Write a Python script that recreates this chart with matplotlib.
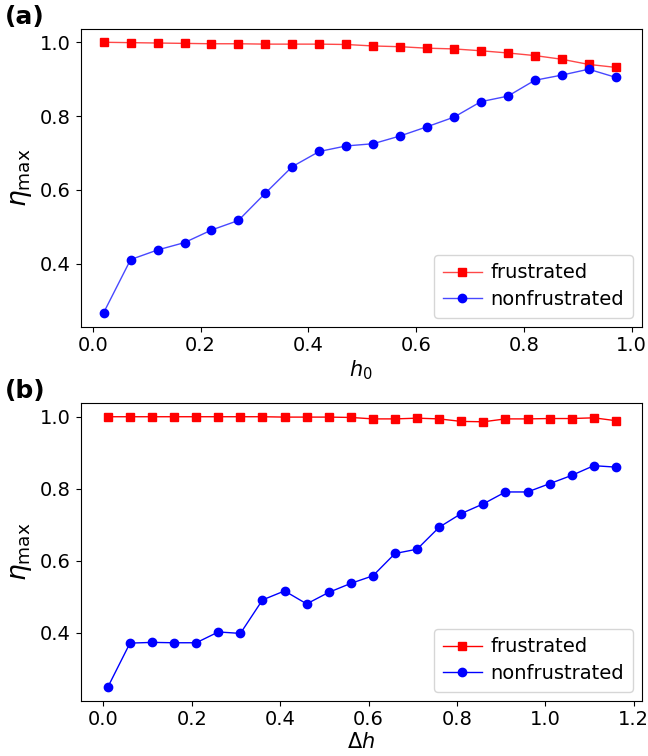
import numpy as np
import matplotlib.pyplot as plt

# panel (a): eta_max vs h0
h0 = [0.02, 0.07, 0.12, 0.17, 0.22, 0.27, 0.32, 0.37, 0.42, 0.47,
      0.52, 0.57, 0.62, 0.67, 0.72, 0.77, 0.82, 0.87, 0.92, 0.97]
frus_a = [1.000, 0.999, 0.998, 0.997, 0.996, 0.996, 0.995, 0.995, 0.995, 0.994,
          0.990, 0.988, 0.984, 0.982, 0.977, 0.971, 0.964, 0.954, 0.940, 0.932]
nonfrus_a = [0.267, 0.411, 0.437, 0.457, 0.491, 0.517, 0.591, 0.663, 0.704, 0.719,
             0.725, 0.746, 0.771, 0.797, 0.839, 0.854, 0.897, 0.911, 0.927, 0.905]

# panel (b): eta_max vs delta h
dh = [0.01, 0.06, 0.11, 0.16, 0.21, 0.26, 0.31, 0.36, 0.41, 0.46, 0.51, 0.56,
      0.61, 0.66, 0.71, 0.76, 0.81, 0.86, 0.91, 0.96, 1.01, 1.06, 1.11, 1.16]
frus_b = [1.000, 1.000, 1.000, 1.000, 1.000, 1.000, 1.000, 1.000, 0.999, 0.999, 0.999, 0.998,
          0.994, 0.994, 0.996, 0.994, 0.987, 0.986, 0.994, 0.994, 0.995, 0.995, 0.997, 0.989]
nonfrus_b = [0.249, 0.371, 0.373, 0.372, 0.372, 0.402, 0.398, 0.491, 0.516, 0.480, 0.512, 0.537,
             0.558, 0.620, 0.632, 0.693, 0.731, 0.758, 0.791, 0.791, 0.814, 0.837, 0.864, 0.860]

fig = plt.figure(figsize=(6.48, 7.56), dpi=100)
W, H = 648.0, 756.0

def add_panel(x, yf, yn, xlabel, tag, top, bottom, xlim, ylim, xticks, lc_f, lc_n):
    ax = fig.add_axes([80.5 / W, 1 - bottom / H, 561 / W, (bottom - top) / H])
    ax.plot(x, yf, '-s', color=lc_f, mfc='red', mec='red', lw=1, ms=6, label='frustrated')
    ax.plot(x, yn, '-o', color=lc_n, mfc='blue', mec='blue', lw=1, ms=6, label='nonfrustrated')
    ax.set_xlim(xlim)
    ax.set_ylim(ylim)
    ax.set_xticks(xticks)
    ax.set_yticks([0.4, 0.6, 0.8, 1.0])
    ax.tick_params(labelsize=14)
    ax.set_xlabel(xlabel, fontsize=15, labelpad=2)
    ax.set_ylabel(r'$\eta_{\rm max}$', fontsize=19, labelpad=4)
    ax.legend(loc='lower right', fontsize=14, handlelength=2, borderpad=0.45,
              borderaxespad=0.45, handletextpad=0.45, labelspacing=0.4)
    fig.text(5 / W, 1 - (top - 12) / H, tag, fontsize=18, fontweight='bold', va='center')
    return ax

ax1 = add_panel(h0, frus_a, nonfrus_a, r'$h_0$', '(a)', 29, 326.7,
                (-0.023, 1.018), (0.229, 1.036), [0.0, 0.2, 0.4, 0.6, 0.8, 1.0],
                '#ff4848', '#4848ff')

ax2 = add_panel(dh, frus_b, nonfrus_b, r'$\Delta h$', '(b)', 402.7, 700.7,
                (-0.052, 1.218), (0.211, 1.039), [0.0, 0.2, 0.4, 0.6, 0.8, 1.0, 1.2],
                'red', 'blue')

plt.savefig('out.png', dpi=100)
